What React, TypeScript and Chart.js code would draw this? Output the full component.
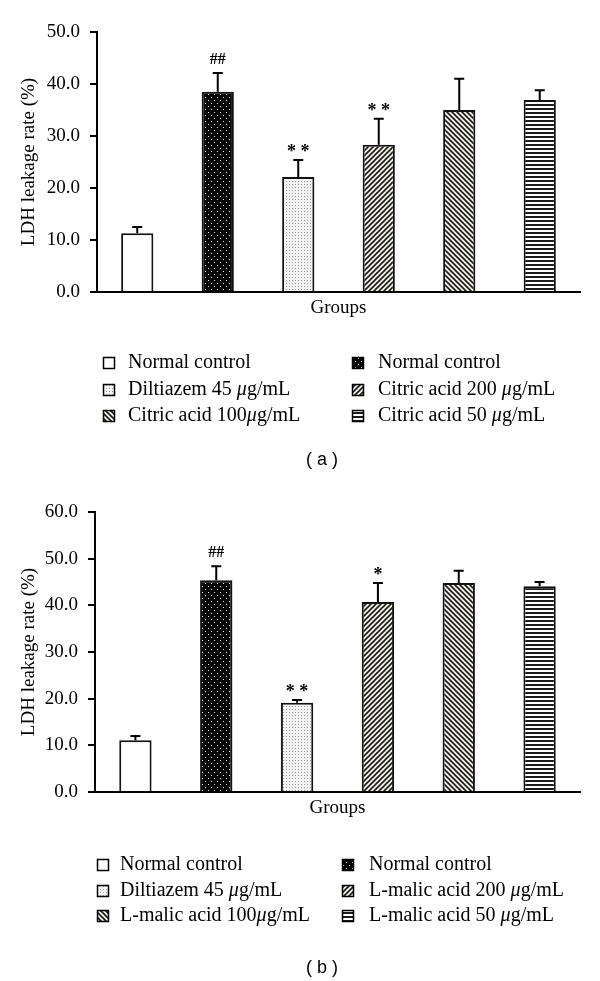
import React, { useEffect, useRef } from "react";
import { Chart, registerables } from "chart.js";

Chart.register(...registerables);

// ---------- DATA ----------
const groupsA = [
  "Normal control",
  "Normal control",
  "Diltiazem 45 μg/mL",
  "Citric acid 200 μg/mL",
  "Citric acid 100μg/mL",
  "Citric acid 50 μg/mL",
];
const meansA = [11.3, 38.5, 22.1, 28.3, 35.0, 36.9];
const errorsA = [1.2, 3.6, 3.3, 5.0, 6.0, 1.9];
const marksA = ["", "##", "* *", "* *", "", ""];
const yTicksA = [0, 10, 20, 30, 40, 50];

const groupsB = [
  "Normal control",
  "Normal control",
  "Diltiazem 45 μg/mL",
  "L-malic acid 200 μg/mL",
  "L-malic acid 100μg/mL",
  "L-malic acid 50 μg/mL",
];
const meansB = [11.1, 45.4, 19.1, 40.7, 44.8, 44.1];
const errorsB = [0.9, 3.0, 0.6, 4.1, 2.6, 0.9];
const marksB = ["", "##", "* *", "*", "", ""];
const yTicksB = [0, 10, 20, 30, 40, 50, 60];

const patternKinds = ["white", "blackDots", "lightDots", "forward", "backward", "horizontal"];

const yTitle = "LDH leakage rate (%)";
const xTitle = "Groups";

// ---------- STYLE ----------
const SERIF = '"Liberation Serif", "Times New Roman", serif';
const SANS = '"Liberation Sans", Arial, sans-serif';

function makeFill(kind: string): string | CanvasPattern {
  if (kind === "white") return "#ffffff";
  const c = document.createElement("canvas");
  const ctx = c.getContext("2d")!;
  if (kind === "blackDots") {
    c.width = 6; c.height = 6;
    ctx.fillStyle = "#050505"; ctx.fillRect(0, 0, 6, 6);
    ctx.fillStyle = "#e8e8e8";
    ctx.fillRect(1, 1, 1, 1); ctx.fillRect(4, 4, 1, 1);
  } else if (kind === "lightDots") {
    c.width = 3; c.height = 3;
    ctx.fillStyle = "#f4f4f4"; ctx.fillRect(0, 0, 3, 3);
    ctx.fillStyle = "#9a9a9a"; ctx.fillRect(1, 1, 1, 1);
  } else if (kind === "forward" || kind === "backward") {
    const s = 5;
    c.width = s; c.height = s;
    ctx.fillStyle = "#f2efe6"; ctx.fillRect(0, 0, s, s);
    ctx.strokeStyle = "#1a1a1a"; ctx.lineWidth = 1.6;
    ctx.beginPath();
    if (kind === "forward") {
      ctx.moveTo(0, s); ctx.lineTo(s, 0);
      ctx.moveTo(-1, 1); ctx.lineTo(1, -1);
      ctx.moveTo(s - 1, s + 1); ctx.lineTo(s + 1, s - 1);
    } else {
      ctx.moveTo(0, 0); ctx.lineTo(s, s);
      ctx.moveTo(-1, s - 1); ctx.lineTo(1, s + 1);
      ctx.moveTo(s - 1, -1); ctx.lineTo(s + 1, 1);
    }
    ctx.stroke();
  } else if (kind === "horizontal") {
    c.width = 4; c.height = 4;
    ctx.fillStyle = "#ffffff"; ctx.fillRect(0, 0, 4, 4);
    ctx.fillStyle = "#1a1a1a"; ctx.fillRect(0, 0, 4, 2);
  }
  return ctx.createPattern(c, "repeat")!;
}

interface PanelCfg {
  groups: string[];
  means: number[];
  errors: number[];
  marks: string[];
  yTicks: number[];
  label: string;
  canvasTop: number;
  canvasHeight: number;
  plotTop: number;
  plotBottom: number;
  plotLeft: number;
  plotRight: number;
  swatchX: number[];
  textX: number[];
  rowY: number[];
  labelX: number;
  labelY: number;
}

const panelA: PanelCfg = {
  groups: groupsA, means: meansA, errors: errorsA, marks: marksA, yTicks: yTicksA,
  label: "( a )",
  canvasTop: 0, canvasHeight: 480,
  plotTop: 32, plotBottom: 292, plotLeft: 97, plotRight: 580,
  swatchX: [109, 358], textX: [128, 378], rowY: [363, 390, 416],
  labelX: 322, labelY: 460,
};

const panelB: PanelCfg = {
  groups: groupsB, means: meansB, errors: errorsB, marks: marksB, yTicks: yTicksB,
  label: "( b )",
  canvasTop: 480, canvasHeight: 501,
  plotTop: 32, plotBottom: 312, plotLeft: 95, plotRight: 580,
  swatchX: [103, 348], textX: [120, 369], rowY: [385, 411, 436],
  labelX: 322, labelY: 488,
};

function drawRichText(ctx: CanvasRenderingContext2D, text: string, x: number, y: number) {
  const parts = text.split("μ");
  let cx = x;
  parts.forEach((p, i) => {
    ctx.font = `20px ${SERIF}`;
    ctx.fillText(p, cx, y);
    cx += ctx.measureText(p).width;
    if (i < parts.length - 1) {
      ctx.font = `italic 20px ${SERIF}`;
      ctx.fillText("μ", cx, y);
      cx += ctx.measureText("μ").width;
    }
  });
}

function makeExtras(cfg: PanelCfg, fills: (string | CanvasPattern)[]) {
  return {
    id: "extras",
    afterDatasetsDraw(chart: any) {
      const ctx: CanvasRenderingContext2D = chart.ctx;
      const meta = chart.getDatasetMeta(0);
      const yScale = chart.scales.y;
      ctx.save();
      ctx.strokeStyle = "#000";
      ctx.lineWidth = 2;
      meta.data.forEach((bar: any, i: number) => {
        const x = bar.x;
        const top = bar.y;
        const et = yScale.getPixelForValue(cfg.means[i] + cfg.errors[i]);
        ctx.beginPath();
        ctx.moveTo(x, top);
        ctx.lineTo(x, et);
        ctx.moveTo(x - 5, et);
        ctx.lineTo(x + 5, et);
        ctx.stroke();
        const m = cfg.marks[i];
        if (m) {
          ctx.fillStyle = "#000";
          ctx.textAlign = "center";
          ctx.textBaseline = "alphabetic";
          ctx.font = m.includes("#") ? `bold 16px ${SERIF}` : `bold 18px ${SERIF}`;
          ctx.fillText(m, x, et - (m.includes("#") ? 9 : 3));
        }
      });
      ctx.restore();
    },
    afterDraw(chart: any) {
      const ctx: CanvasRenderingContext2D = chart.ctx;
      ctx.save();
      cfg.groups.forEach((g, i) => {
        const row = Math.floor(i / 2);
        const col = i % 2;
        const sx = cfg.swatchX[col];
        const y = cfg.rowY[row];
        ctx.fillStyle = fills[i] as any;
        ctx.fillRect(sx - 5.5, y - 5.5, 11, 11);
        ctx.strokeStyle = "#000";
        ctx.lineWidth = 1.5;
        ctx.strokeRect(sx - 5.5, y - 5.5, 11, 11);
        ctx.fillStyle = "#000";
        ctx.textAlign = "left";
        ctx.textBaseline = "middle";
        drawRichText(ctx, g, cfg.textX[col], y);
      });
      ctx.font = `18px ${SANS}`;
      ctx.textAlign = "center";
      ctx.textBaseline = "middle";
      ctx.fillStyle = "#000";
      ctx.fillText(cfg.label, cfg.labelX, cfg.labelY);
      ctx.restore();
    },
  };
}

function Panel({ cfg }: { cfg: PanelCfg }) {
  const ref = useRef<HTMLCanvasElement>(null);
  useEffect(() => {
    const canvas = ref.current!;
    const fills = patternKinds.map(makeFill);
    const xAxisH = 30;
    const chart = new Chart(canvas, {
      type: "bar",
      data: {
        labels: cfg.groups,
        datasets: [
          {
            data: cfg.means,
            backgroundColor: fills as any,
            borderColor: "#111",
            borderWidth: 2,
            barPercentage: 0.4,
            categoryPercentage: 1,
          },
        ],
      },
      options: {
        animation: false,
        responsive: false,
        maintainAspectRatio: false,
        layout: {
          padding: {
            top: cfg.plotTop,
            right: 600 - cfg.plotRight,
            bottom: cfg.canvasHeight - cfg.plotBottom - xAxisH,
            left: 0,
          },
        },
        plugins: { legend: { display: false }, tooltip: { enabled: false } },
        scales: {
          x: {
            ticks: { display: false },
            grid: { display: false },
            border: { display: true, color: "#000", width: 2 },
            title: {
              display: true,
              text: xTitle,
              color: "#000",
              font: { family: SERIF, size: 19 },
              padding: { top: 0, bottom: 3 },
            },
            afterFit: (s: any) => { s.height = xAxisH; },
          },
          y: {
            min: cfg.yTicks[0],
            max: cfg.yTicks[cfg.yTicks.length - 1],
            ticks: {
              stepSize: cfg.yTicks[1] - cfg.yTicks[0],
              callback: (v: any) => Number(v).toFixed(1),
              color: "#000",
              font: { family: SERIF, size: 19 },
              padding: 10,
            },
            grid: {
              display: true,
              drawOnChartArea: false,
              drawTicks: true,
              tickLength: 7,
              color: "#000",
              lineWidth: 2,
            },
            border: { display: true, color: "#000", width: 2 },
            title: {
              display: true,
              text: yTitle,
              color: "#000",
              font: { family: SERIF, size: 19 },
              padding: { top: 18, bottom: 0 },
            },
            afterFit: (s: any) => { s.width = cfg.plotLeft; },
          },
        },
      } as any,
      plugins: [makeExtras(cfg, fills) as any],
    });
    return () => chart.destroy();
  }, []);
  return (
    <canvas
      ref={ref}
      width={600}
      height={cfg.canvasHeight}
      style={{ position: "absolute", left: 0, top: cfg.canvasTop, width: 600, height: cfg.canvasHeight }}
    />
  );
}

export default function App() {
  return (
    <div style={{ position: "absolute", left: 0, top: 0, width: 600, height: 981, background: "#fff" }}>
      <Panel cfg={panelA} />
      <Panel cfg={panelB} />
    </div>
  );
}
